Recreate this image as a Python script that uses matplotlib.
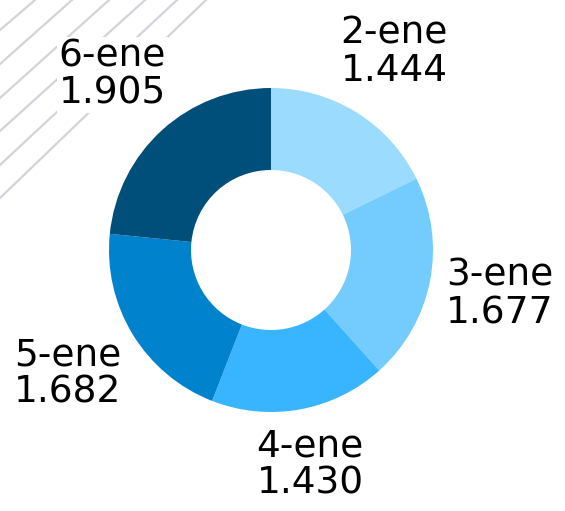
import numpy as np
import matplotlib
matplotlib.use("Agg")
import matplotlib.pyplot as plt
from matplotlib.lines import Line2D

# data
labels = ["2-ene", "3-ene", "4-ene", "5-ene", "6-ene"]
values = [1.444, 1.677, 1.430, 1.682, 1.905]
colors = ["#9bdbfd", "#73cbfe", "#38b5fe", "#0082cc", "#004f7a"]

W, H = 565, 511
fig = plt.figure(figsize=(W / 100, H / 100), dpi=100)
ax = fig.add_axes([0, 0, 1, 1])

# decorative diagonal lines in the top-left corner (pixel coords)
left_y = [30, 64, 98, 131, 165, 198]
top_x = [35, 72, 109, 145, 177, 206]
for y0, x1 in zip(left_y, top_x):
    fig.add_artist(Line2D([0, x1 / W], [1 - y0 / H, 1], transform=fig.transFigure,
                          color="#d3d3da", lw=1.6, zorder=0))

cx, cy, r = 271, H - 250, 162
wedges, _ = ax.pie(values, colors=colors, startangle=90, counterclock=False,
                   radius=r, center=(cx, cy),
                   wedgeprops=dict(width=82, linewidth=0))
ax.set_xlim(0, W)
ax.set_ylim(0, H)
ax.set_aspect("auto")
ax.axis("off")

# labels at each wedge's middle angle, pushed out past the ring
fig.canvas.draw()
renderer = fig.canvas.get_renderer()
gap = 11
for w, lab, val in zip(wedges, labels, values):
    ang = np.deg2rad((w.theta1 + w.theta2) / 2)
    c, s = np.cos(ang), np.sin(ang)
    t = ax.text(0, 0, f"{lab}\n{val:.3f}", ha="center", va="center",
                fontsize=27, linespacing=1.05, family="DejaVu Sans",
                bbox=dict(facecolor="white", edgecolor="none", pad=1))
    bb = t.get_window_extent(renderer)
    hw, hh = bb.width / 2, bb.height / 2
    d = r + gap + abs(c) * hw + abs(s) * hh
    t.set_position((cx + d * c, cy + d * s))

fig.savefig("out.png", dpi=100)
